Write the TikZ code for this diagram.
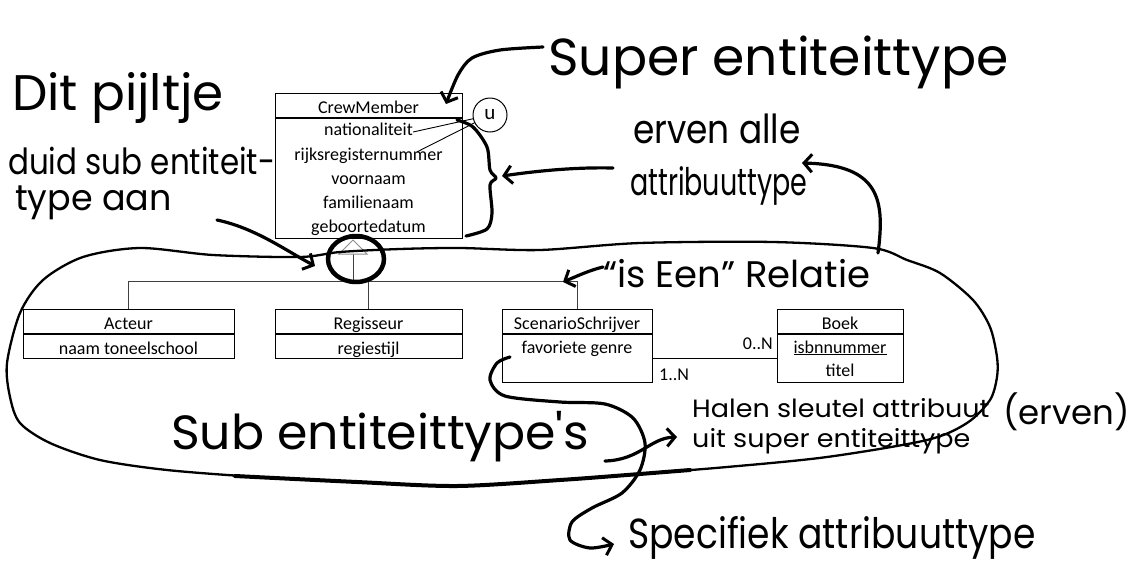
\documentclass[tikz,border=0pt]{standalone}
\usepackage{fontspec}
\setmainfont{Carlito}
\newfontfamily\hand{Poppins}
\usetikzlibrary{arrows.meta,calc}
\begin{document}
\begin{tikzpicture}[x=1pt,y=-1pt,
  box/.style={draw, line width=1pt, inner sep=0pt, text height=16pt, text depth=0pt, font=\fontsize{18}{20}\selectfont},
  txt/.style={inner sep=0pt, font=\fontsize{18}{20}\selectfont},
  hier/.style={draw=black!75, line width=1pt},
  pen/.style={line width=3.2pt, line cap=round, line join=round},
  barb/.style={-{Straight Barb[length=8pt,width=18pt,line width=3pt]}},
  hw/.style={inner sep=0pt, anchor=base west}]
\useasboundingbox (0,0) rectangle (1130,568);
\fill[white] (0,0) rectangle (1130,568);

% ---------- CrewMember ----------
\node[box, minimum width=187pt, minimum height=24pt] (cmh) at (368.5,105) {CrewMember};
\node[box, minimum width=187pt, minimum height=120pt, anchor=north] (cma) at (cmh.south) {};
\node[txt, anchor=base] (nat) at (368.5,135) {nationaliteit};
\node[txt, anchor=base] (rjk) at (368.5,160) {rijksregisternummer};
\node[txt, anchor=base] (vnm) at (368.5,184) {voornaam};
\node[txt, anchor=base] (fnm) at (368.5,208) {familienaam};
\node[txt, anchor=base] (gbd) at (368.5,232) {geboortedatum};

% ---------- subtypes ----------
\node[box, minimum width=211pt, minimum height=24pt] (ach) at (128.5,321) {Acteur};
\node[box, minimum width=211pt, minimum height=24pt, anchor=north] (aca) at (ach.south) {naam toneelschool};
\node[box, minimum width=187pt, minimum height=24pt] (rgh) at (368.5,321) {Regisseur};
\node[box, minimum width=187pt, minimum height=24pt, anchor=north] (rga) at (rgh.south) {regiestijl};
\node[box, minimum width=150pt, minimum height=24pt] (ssh) at (577,321) {ScenarioSchrijver};
\node[box, minimum width=150pt, minimum height=48pt, anchor=north] (ssa) at (ssh.south) {};
\node[txt, anchor=base] (fav) at (577,353) {favoriete genre};
\node[box, minimum width=126pt, minimum height=24pt] (bkh) at (840,321) {Boek};
\node[box, minimum width=126pt, minimum height=48pt, anchor=north] (bka) at (bkh.south) {};
\node[txt, anchor=base] (isbn) at (840,353) {\underline{isbnnummer}};
\node[txt, anchor=base] (tit) at (840,376) {titel};

% association
\draw[line width=1pt] (ssa.east) -- (bka.west);
\node[txt, anchor=base east] (m1) at (773,349) {0..N};
\node[txt, anchor=base west] (m2) at (659,380) {1..N};

% generalisation
\coordinate (tribase) at (353,254);
\coordinate (hub) at (353,281);
\draw[hier] (tribase) -- (hub);
\draw[hier] (ach.north) -- (ach.north |- hub) -- (ssh.north |- hub) -- (ssh.north);
\draw[hier] (rgh.north) -- (rgh.north |- hub);
\draw[draw=black!45, fill=white, line width=1pt] (339,254) -- (353,240) -- (367,254) -- cycle;

% u circle
\node[draw, circle, minimum size=34pt, inner sep=0pt, line width=1pt, fill=white,
      font=\fontsize{21}{21}\selectfont] (u) at (490,115) {u};
\coordinate (natend) at ($(nat.base east)+(0,-3)$);
\coordinate (rjkend) at ($(rjk.base east)+(-26,-8)$);
\draw[line width=0.9pt] (u) -- (natend);
\draw[line width=0.9pt] (u) -- (rjkend);

% ---------- hand-drawn marks ----------
% big loop
\draw[line width=2.3pt, line join=round] plot[smooth cycle] coordinates {
 (540,250) (640,243) (773,242) (873,248) (907,260) (940,273) (973,300) (990,327)
 (997,357) (997,377) (990,400) (967,423) (927,440) (827,457) (727,467) (627,475)
 (560,480) (457,486) (357,482) (257,477) (167,470) (100,460) (50,443) (20,423)
 (10,397) (7,363) (20,313) (43,280) (83,257) (140,248) (213,255) (300,257)
 (340,252) (400,249) (460,248)};
\draw[line width=4pt, line cap=round] plot[smooth] coordinates {
 (235,476) (357,482) (457,486) (560,480) (627,475) (690,470)};

% circle round the triangle
\draw[line width=4.5pt] (356,259) ellipse [x radius=28, y radius=23];

% brace
\draw[pen] plot[smooth] coordinates {(457,120) (473,127) (487,147) (490,170) (496,178)
  (490,185) (492,213) (487,229) (466,236)};

% arrows
\draw[pen, barb] plot[smooth] coordinates {(543,47) (500,50) (472,58) (458,75) (446,104)};
\draw[pen, barb] (613,168) .. controls (570,167) and (530,172) .. (502,176);
\draw[pen, barb] (217,220) .. controls (255,228) and (285,250) .. (315,266);
\draw[pen, barb] (603,267) .. controls (590,270) and (575,277) .. (563,282);
\draw[pen, barb] (878,253) .. controls (885,200) and (880,165) .. (802,163);
\draw[pen, barb] plot[smooth] coordinates {(510,357) (497,363) (490,380) (505,396)
  (560,402) (605,404) (633,418) (645,443) (640,470) (622,493) (592,508) (572,522)
  (570,540) (590,548) (614,544)};
\draw[pen, barb] (605,461) .. controls (640,460) and (650,438) .. (677,437);

% handwritten texts
\node[hw, font=\hand\fontsize{52}{52}\selectfont] (t1) at (548,75) {Super entiteittype};
\node[hw, font=\hand\fontsize{50}{50}\selectfont] (t2) at (12,110) {Dit pijltje};
\node[hw, font=\hand\fontsize{36}{36}\selectfont, xscale=0.86] (t3) at (8,174) {duid sub entiteit-};
\node[hw, font=\hand\fontsize{36}{36}\selectfont, xscale=0.97] (t4) at (15,210) {type aan};
\node[hw, font=\hand\fontsize{40}{40}\selectfont, xscale=0.86] (t5) at (633,143) {erven alle};
\node[hw, font=\hand\fontsize{38}{38}\selectfont, xscale=0.71] (t6) at (630,195) {attribuuttype};
\node[hw, font=\hand\fontsize{37}{37}\selectfont] (t7) at (603,287) {“is Een” Relatie};
\node[hw, font=\hand\fontsize{48}{48}\selectfont, xscale=1.02] (t8) at (171,449) {Sub entiteittype's};
\node[inner sep=0pt, anchor=north west, align=left, font=\hand\fontsize{25}{30}\selectfont,
      xscale=1.08] (t9) at (692,398) {Halen sleutel attribuut\\uit super entiteittype};
\node[hw, font=\hand\fontsize{34}{34}\selectfont] (t11) at (1003,424) {(erven)};
\node[hw, font=\hand\fontsize{42}{42}\selectfont, xscale=0.86] (t12) at (628,548) {Specifiek attribuuttype};
\end{tikzpicture}
\end{document}
